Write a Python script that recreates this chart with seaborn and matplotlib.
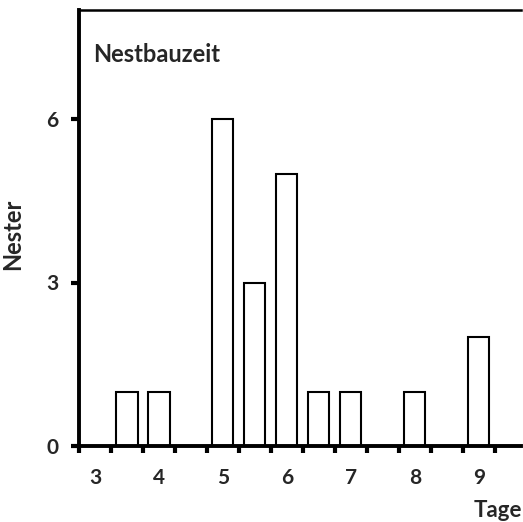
import numpy as np
import pandas as pd
import matplotlib
matplotlib.use("Agg")
import matplotlib.pyplot as plt
import seaborn as sns

# ── data ──────────────────────────────────────────────────────────────
DAYS  = [3.5, 4.0, 5.0, 5.5, 6.0, 6.5, 7.0, 8.0, 9.0]
NESTS = [1, 1, 6, 3, 5, 1, 1, 1, 2]
DAY_LABELS = [3, 4, 5, 6, 7, 8, 9]
Y_TICKS = [0, 3, 6]

sns.set_theme(style="white")
plt.rcParams["font.family"] = ["Lato", "DejaVu Sans"]
plt.rcParams["font.weight"] = "bold"

df = pd.DataFrame({"Tage": DAYS, "Nester": NESTS})

fig = plt.figure(figsize=(5.23, 5.22), dpi=100)
ax = fig.add_axes([79 / 523, 1 - 446 / 522, (521 - 79) / 523, (446 - 10) / 522])

sns.barplot(data=df, x="Tage", y="Nester", native_scale=True, width=0.66,
            color="white", edgecolor="black", linewidth=1.5, saturation=1,
            errorbar=None, ax=ax)

ax.set_xlim(2.75, 9.66)
ax.set_ylim(0, 8)

# tick marks at bin edges, labels at whole days
ax.set_xticks(np.arange(2.75, 9.3, 0.5))
ax.set_xticklabels([])
ax.set_xticks(DAY_LABELS, minor=True)
ax.set_xticklabels([str(d) for d in DAY_LABELS], minor=True)
ax.tick_params(axis="x", which="major", direction="out", length=5, width=3,
               bottom=True, color="black")
ax.tick_params(axis="x", which="minor", length=0, pad=16, labelsize=15)
ax.set_yticks(Y_TICKS)
ax.tick_params(axis="y", direction="out", length=6, width=3, left=True,
               color="black", labelsize=15, pad=9)

for side in ["left", "bottom"]:
    ax.spines[side].set_linewidth(2.8)
    ax.spines[side].set_color("black")
ax.spines["top"].set_linewidth(1.8)
ax.spines["top"].set_color("black")
ax.spines["right"].set_visible(False)

ax.set_xlabel("")
ax.set_ylabel("")
fig.text(13 / 523, 1 - 234 / 522, "Nester", rotation=90, ha="center",
         va="center", fontsize=17, fontweight="bold")
fig.text(522 / 523, 1 - 517 / 522, "Tage", ha="right", va="baseline",
         fontsize=16, fontweight="bold")
fig.text(93 / 523, 1 - 54 / 522, "Nestbauzeit", ha="left", va="center",
         fontsize=17, fontweight="bold")

fig.savefig("out.png", dpi=100)
